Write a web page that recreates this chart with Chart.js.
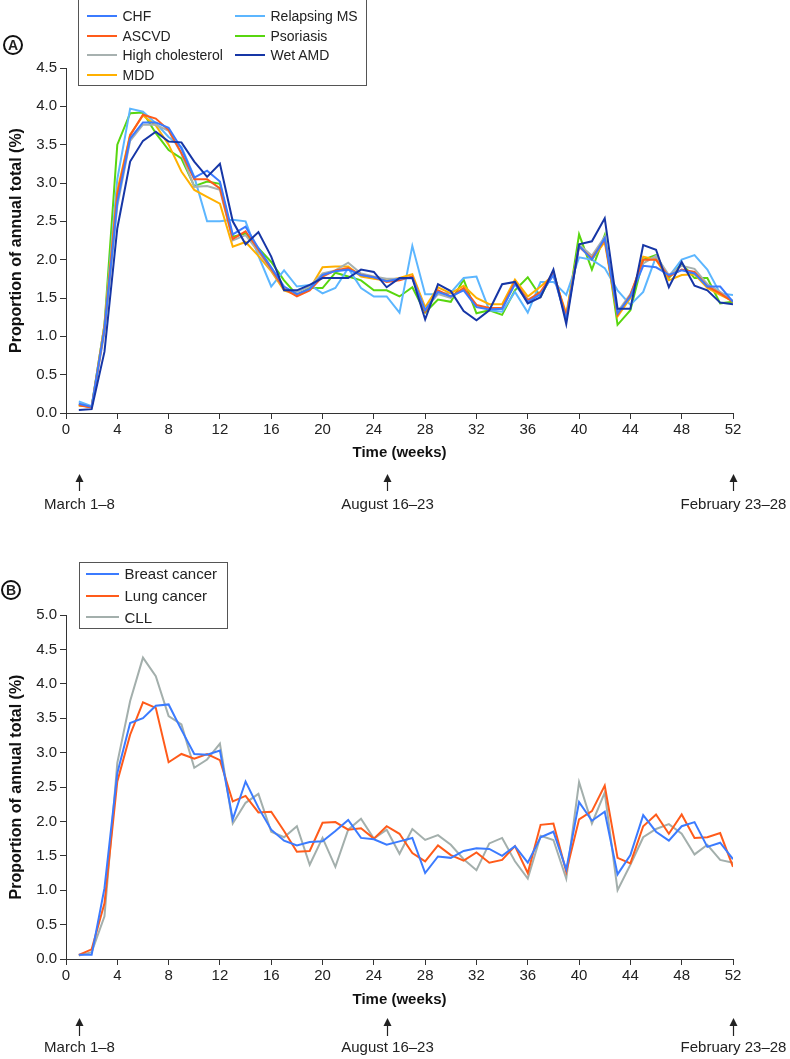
<!DOCTYPE html>
<html>
<head>
<meta charset="utf-8">
<script src="https://cdn.jsdelivr.net/npm/chart.js@4.4.1/dist/chart.umd.min.js"></script>
<style>
html, body { margin: 0; padding: 0; background: #fff; }
body { width: 790px; height: 1059px; position: relative; overflow: hidden;
       font-family: "Liberation Sans", Arial, sans-serif; color: #222; }
.wrap { position: absolute; left: 0; width: 790px; }
#wrapA { top: 0; height: 530px; }
#wrapB { top: 530px; height: 529px; }
.lg { position: absolute; border: 1.5px solid #555; background: #fff; box-sizing: border-box; }
.lg-item { position: absolute; white-space: nowrap; display: flex; align-items: center; }
.lg-item i { display: inline-block; height: 2px; margin-right: 6px; }
.tag { position: absolute; width: 20px; height: 20px; box-sizing: border-box; border: 2px solid #111;
       border-radius: 50%; font: bold 14px "Liberation Sans", Arial, sans-serif; text-align: center; line-height: 16px; }
</style>
</head>
<body>
<div class="wrap" id="wrapA"><canvas id="chartA" width="790" height="530"></canvas></div>
<div class="wrap" id="wrapB"><canvas id="chartB" width="790" height="529"></canvas></div>
<div class="tag" style="left:3px;top:35px;">A</div>
<div class="tag" style="left:1px;top:580px;">B</div>
<div class="lg" id="legendA" style="left:78px;top:-1px;width:289px;height:87px;"></div>
<div class="lg" id="legendB" style="left:79px;top:562px;width:149px;height:67px;"></div>
<script>
'use strict';

/* ── データ ─────────────────────────────── */
const WEEKS = Array.from({ length: 52 }, (_, i) => i + 1);
const X_TICK_STEP = 4;

const ARROW_WEEKS  = [1, 25, 52];
const ARROW_LABELS = ['March 1–8', 'August 16–23', 'February 23–28'];

// Panel A
const A_NAMES  = ['CHF', 'ASCVD', 'High cholesterol', 'MDD', 'Relapsing MS', 'Psoriasis', 'Wet AMD'];
const A_COLORS = ['#3b7bff', '#ff5b1a', '#a7b1b0', '#ffb000', '#5cb6ff', '#58d60f', '#1636a6'];
const CHF = [0.12,0.08,1.10,2.75,3.58,3.79,3.79,3.72,3.45,3.07, 3.16,3.02,2.33,2.43,2.15,1.90,1.65,1.55,1.62,1.80,
             1.85,1.87,1.80,1.77,1.72,1.75,1.76,1.34,1.58,1.52, 1.60,1.38,1.35,1.36,1.68,1.45,1.55,1.80,1.22,2.18,
             2.00,2.28,1.30,1.52,1.92,1.90,1.80,1.86,1.82,1.65, 1.65,1.45];
const ASCVD = [0.10,0.07,1.10,2.85,3.62,3.89,3.84,3.69,3.39,3.05, 3.05,2.93,2.27,2.37,2.13,1.88,1.62,1.52,1.60,1.78,
               1.86,1.89,1.80,1.77,1.71,1.73,1.78,1.32,1.60,1.52, 1.63,1.41,1.37,1.37,1.71,1.47,1.58,1.83,1.26,2.17,
               2.02,2.26,1.28,1.54,2.00,2.00,1.78,1.87,1.84,1.65, 1.56,1.45];
const HIGH_CHOL = [0.12,0.08,1.05,2.70,3.55,3.76,3.76,3.68,3.38,2.95, 2.96,2.91,2.25,2.32,2.10,1.87,1.62,1.58,1.65,1.82,
                   1.86,1.96,1.82,1.78,1.75,1.75,1.77,1.35,1.55,1.50, 1.62,1.40,1.36,1.36,1.70,1.48,1.56,1.80,1.24,2.20,
                   2.05,2.30,1.32,1.55,1.95,2.05,1.80,1.92,1.88,1.68, 1.58,1.46];
const MDD = [0.10,0.08,1.15,2.90,3.63,3.88,3.75,3.50,3.15,2.91, 2.82,2.73,2.17,2.23,2.05,1.85,1.60,1.54,1.62,1.90,
             1.91,1.91,1.78,1.75,1.73,1.76,1.81,1.38,1.64,1.56, 1.66,1.50,1.42,1.42,1.74,1.52,1.65,1.80,1.30,2.19,
             2.00,2.23,1.26,1.50,2.04,2.00,1.73,1.80,1.81,1.63, 1.54,1.46];
const REL_MS = [0.15,0.09,1.15,3.05,3.97,3.93,3.78,3.60,3.47,3.08, 2.50,2.50,2.52,2.50,2.05,1.65,1.86,1.65,1.67,1.56,
                1.63,1.89,1.63,1.52,1.52,1.31,2.18,1.55,1.55,1.57, 1.76,1.78,1.34,1.32,1.58,1.31,1.71,1.71,1.54,2.03,
                2.00,1.89,1.60,1.41,1.58,2.04,1.78,2.00,2.06,1.87, 1.56,1.54];
const PSORIASIS = [0.10,0.08,1.15,3.50,3.91,3.92,3.65,3.43,3.32,2.96, 3.02,2.99,2.30,2.34,2.15,1.97,1.73,1.54,1.63,1.63,
                   1.83,1.78,1.73,1.60,1.60,1.52,1.64,1.31,1.48,1.45, 1.74,1.30,1.34,1.28,1.60,1.77,1.52,1.84,1.24,2.33,
                   1.87,2.32,1.15,1.34,2.00,2.06,1.76,1.95,1.76,1.76, 1.43,1.45];
const WET_AMD = [0.04,0.05,0.80,2.41,3.28,3.55,3.67,3.54,3.53,3.28, 3.08,3.25,2.50,2.20,2.36,2.04,1.60,1.60,1.67,1.76,
                 1.76,1.76,1.87,1.84,1.64,1.76,1.76,1.22,1.68,1.59, 1.33,1.21,1.34,1.68,1.71,1.43,1.51,1.87,1.16,2.20,
                 2.24,2.54,1.36,1.36,2.19,2.13,1.64,1.97,1.66,1.60, 1.44,1.42];
const A_SERIES = [CHF, ASCVD, HIGH_CHOL, MDD, REL_MS, PSORIASIS, WET_AMD];

// Panel B
const B_NAMES  = ['Breast cancer', 'Lung cancer', 'CLL'];
const B_COLORS = ['#3b7bff', '#ff5b1a', '#a3afac'];
const BREAST = [0.06,0.06,1.03,2.70,3.43,3.50,3.68,3.70,3.33,2.98, 2.97,3.03,2.03,2.58,2.20,1.88,1.72,1.65,1.70,1.71,
                1.86,2.02,1.76,1.74,1.66,1.71,1.76,1.25,1.49,1.47, 1.57,1.61,1.60,1.50,1.64,1.40,1.77,1.85,1.30,2.28,
                2.01,2.14,1.23,1.51,2.09,1.85,1.72,1.93,1.99,1.63, 1.69,1.45];
const LUNG = [0.06,0.14,0.81,2.58,3.26,3.73,3.65,2.86,2.98,2.91, 2.98,2.89,2.29,2.37,2.13,2.14,1.86,1.56,1.57,1.98,
              1.99,1.88,1.90,1.75,1.93,1.82,1.54,1.42,1.65,1.51, 1.43,1.55,1.40,1.44,1.64,1.25,1.95,1.97,1.27,2.03,
              2.15,2.52,1.47,1.39,1.93,2.10,1.82,2.10,1.76,1.77, 1.83,1.34];
const CLL = [0.05,0.10,0.62,2.85,3.75,4.38,4.11,3.53,3.41,2.78, 2.90,3.13,1.97,2.27,2.40,1.85,1.77,1.93,1.37,1.76,
             1.34,1.88,2.04,1.75,1.88,1.53,1.89,1.73,1.80,1.66, 1.45,1.29,1.68,1.76,1.42,1.17,1.79,1.73,1.17,2.57,
             1.97,2.42,1.00,1.37,1.77,1.89,1.96,1.82,1.52,1.66, 1.44,1.40];
const B_SERIES = [BREAST, LUNG, CLL];

/* ── 共通設定 ─────────────────────────────── */
const INK = '#333';
const SANS = '"Liberation Sans", Arial, sans-serif';

// 矢印 + 日付ラベル（x軸下）
const arrowPlugin = {
  id: 'arrows',
  afterDraw(chart, args, opts) {
    const { ctx, chartArea } = chart;
    const x = chart.scales.x;
    const base = chartArea.bottom;
    ctx.save();
    ctx.strokeStyle = '#222';
    ctx.fillStyle = '#222';
    ctx.lineWidth = 1.2;
    ctx.font = `15px ${SANS}`;
    ctx.textAlign = 'center';
    ctx.textBaseline = 'middle';
    ARROW_WEEKS.forEach((w, i) => {
      const px = Math.round(x.getPixelForValue(w)) + 0.5;
      const yTop = base + opts.top, yBot = base + opts.bottom;
      ctx.beginPath();
      ctx.moveTo(px, yTop + 6);
      ctx.lineTo(px, yBot);
      ctx.stroke();
      ctx.beginPath();
      ctx.moveTo(px, yTop);
      ctx.lineTo(px - 4, yTop + 8);
      ctx.lineTo(px + 4, yTop + 8);
      ctx.closePath();
      ctx.fill();
      ctx.fillText(ARROW_LABELS[i], px, base + opts.text);
    });
    ctx.restore();
  }
};

function makeChart(canvasId, names, colors, series, yMax, cfg) {
  const datasets = names.map((name, i) => ({
    label: name,
    data: WEEKS.map((w, j) => ({ x: w, y: series[i][j] })),
    borderColor: colors[i],
    backgroundColor: colors[i],
    borderWidth: 2,
    pointRadius: 0,
    tension: 0,
    order: cfg.order ? cfg.order[i] : i,
  }));
  return new Chart(document.getElementById(canvasId), {
    type: 'line',
    data: { datasets },
    options: {
      responsive: false,
      animation: false,
      devicePixelRatio: 1,
      layout: { padding: { top: cfg.top, right: 57, bottom: 0, left: 0 } },
      plugins: {
        legend: { display: false },
        tooltip: { enabled: false },
        arrows: cfg.arrows,
      },
      scales: {
        x: {
          type: 'linear',
          min: 0, max: 52,
          afterFit(s) { s.height = cfg.xHeight; },
          ticks: { stepSize: X_TICK_STEP, color: '#222', font: { family: SANS, size: 15 }, padding: 2, maxRotation: 0 },
          grid: { display: true, drawOnChartArea: false, drawTicks: true, tickLength: 6, color: INK },
          border: { display: true, color: INK, width: 1 },
          title: { display: true, text: 'Time (weeks)', color: '#111',
                   font: { family: SANS, size: 15, weight: 'bold' }, padding: { top: 0, bottom: cfg.titlePad } },
        },
        y: {
          min: 0, max: yMax,
          afterFit(s) { s.width = 66; },
          ticks: { stepSize: 0.5, color: '#222', font: { family: SANS, size: 15 }, padding: 3,
                   callback: v => Number(v).toFixed(1) },
          grid: { display: true, drawOnChartArea: false, drawTicks: true, tickLength: 6, color: INK },
          border: { display: true, color: INK, width: 1 },
          title: { display: true, text: 'Proportion of annual total (%)', color: '#111',
                   font: { family: SANS, size: 16, weight: 'bold' }, padding: { top: 7, bottom: 0 } },
        },
      },
    },
    plugins: [arrowPlugin],
  });
}

function buildLegend(elId, names, colors, opt) {
  const el = document.getElementById(elId);
  names.forEach((name, i) => {
    const col = Math.floor(i / opt.rows);
    const row = i % opt.rows;
    const d = document.createElement('div');
    d.className = 'lg-item';
    d.style.left = (opt.left + col * opt.colW) + 'px';
    d.style.top = (opt.top + row * opt.rowH) + 'px';
    d.style.height = opt.rowH + 'px';
    d.style.fontSize = opt.font + 'px';
    d.innerHTML = `<i style="width:${opt.sw}px;background:${colors[i]}"></i>${name}`;
    el.appendChild(d);
  });
}

makeChart('chartA', A_NAMES, A_COLORS, A_SERIES, 4.5, {
  top: 68, xHeight: 117, titlePad: 68,
  order: [1, 2, 3, 4, 5, 6, 0],
  arrows: { top: 61, bottom: 78, text: 92 },
});
makeChart('chartB', B_NAMES, B_COLORS, B_SERIES, 5.0, {
  top: 85, xHeight: 100, titlePad: 50,
  arrows: { top: 59, bottom: 77, text: 89 },
});

buildLegend('legendA', A_NAMES, A_COLORS, { rows: 4, left: 7.5, top: 6, colW: 148, rowH: 19.7, sw: 30, font: 14 });
buildLegend('legendB', B_NAMES, B_COLORS, { rows: 3, left: 5.5, top: 0, colW: 0, rowH: 21.7, sw: 33, font: 15 });
</script>
</body>
</html>
